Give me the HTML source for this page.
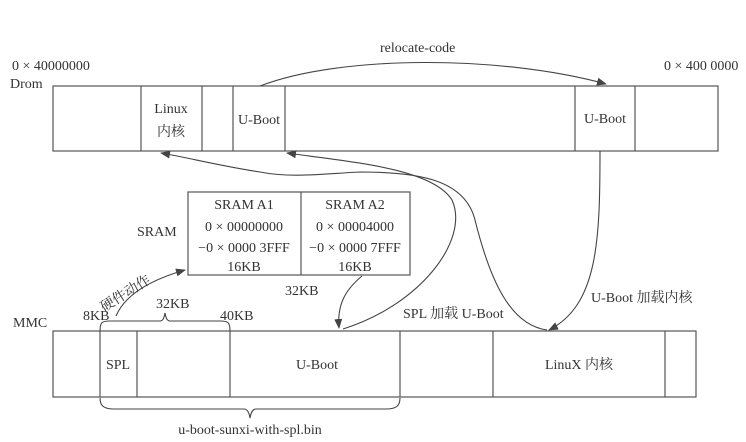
<!DOCTYPE html>
<html><head><meta charset="utf-8"><style>
html,body{margin:0;padding:0;background:#fff;}
svg{display:block}
text{font-family:"Liberation Serif","Noto Serif CJK SC",serif;font-size:14px;fill:#333;}
</style></head><body>
<svg width="746" height="442" viewBox="0 0 746 442" xmlns="http://www.w3.org/2000/svg">
<defs><marker id="a" markerWidth="10" markerHeight="8" refX="9" refY="4" orient="auto" markerUnits="userSpaceOnUse"><path d="M0,0 L10,4 L0,8 Z" fill="#444"/></marker></defs>
<g fill="none" stroke="#555" stroke-width="1.2">
<rect x="53" y="86" width="665" height="65"/>
<line x1="141" y1="86" x2="141" y2="151"/><line x1="202" y1="86" x2="202" y2="151"/>
<line x1="233" y1="86" x2="233" y2="151"/><line x1="285" y1="86" x2="285" y2="151"/>
<line x1="575" y1="86" x2="575" y2="151"/><line x1="635" y1="86" x2="635" y2="151"/>
<rect x="188" y="192" width="222" height="83"/><line x1="301" y1="192" x2="301" y2="275"/>
<rect x="53" y="331" width="643" height="66"/>
<line x1="100" y1="331" x2="100" y2="397"/><line x1="137" y1="331" x2="137" y2="397"/>
<line x1="230" y1="331" x2="230" y2="397"/><line x1="400" y1="331" x2="400" y2="397"/>
<line x1="493" y1="331" x2="493" y2="397"/><line x1="665" y1="331" x2="665" y2="397"/>
</g>
<g fill="none" stroke="#444" stroke-width="1.1">
<path d="M260,86 C340,55 500,55 606,84" marker-end="url(#a)"/>
<path d="M343,329 C420,305 470,240 452,200 C432,168 350,162 287,153" marker-end="url(#a)"/>
<path d="M547,330 C510,325 490,280 475,220 C465,180 420,172 360,172 C320,174 290,178 260,172 C220,166 190,158 161,153" marker-end="url(#a)"/>
<path d="M600,151 C600,240 598,305 549,330" marker-end="url(#a)"/>
<path d="M362,276 C345,290 337,305 339,328" marker-end="url(#a)"/>
<path d="M116,316 C125,295 150,280 185,270" marker-end="url(#a)"/>
<path d="M100,331 C100,322 102,321 110,321 L160,321 C163,321 164,318 165,313 C166,318 167,321 170,321 L220,321 C228,321 230,322 230,331"/>
<path d="M100,398 C100,406 104,409 114,409 L244,409 C247,409 249,412 250,418 C251,412 253,409 256,409 L386,409 C396,409 400,406 400,398"/>
</g>
<text x="12" y="70">0 × 40000000</text>
<text x="10" y="88">Drom</text>
<text x="380" y="52">relocate-code</text>
<text x="664" y="70">0 × 400 0000</text>
<text x="171" y="113" text-anchor="middle">Linux</text>
<text x="171" y="136" text-anchor="middle">内核</text>
<text x="259" y="124" text-anchor="middle">U-Boot</text>
<text x="605" y="123" text-anchor="middle">U-Boot</text>
<text x="137" y="236">SRAM</text>
<g text-anchor="middle">
<text x="244" y="209">SRAM A1</text><text x="244" y="231">0 × 00000000</text><text x="244" y="252">−0 × 0000 3FFF</text><text x="244" y="271">16KB</text>
<text x="355" y="209">SRAM A2</text><text x="355" y="231">0 × 00004000</text><text x="355" y="252">−0 × 0000 7FFF</text><text x="355" y="271">16KB</text>
</g>
<text x="285" y="295">32KB</text>
<text x="156" y="308">32KB</text>
<text x="83" y="320">8KB</text>
<text x="220" y="320">40KB</text>
<text x="13" y="327">MMC</text>
<text x="104" y="312" transform="rotate(-32 104 312)">硬件动作</text>
<text x="403" y="318">SPL 加载 U-Boot</text>
<text x="591" y="302">U-Boot 加载内核</text>
<text x="118" y="369" text-anchor="middle">SPL</text>
<text x="317" y="369" text-anchor="middle">U-Boot</text>
<text x="579" y="369" text-anchor="middle">LinuX 内核</text>
<text x="250" y="434" text-anchor="middle">u-boot-sunxi-with-spl.bin</text>
</svg>
</body></html>
